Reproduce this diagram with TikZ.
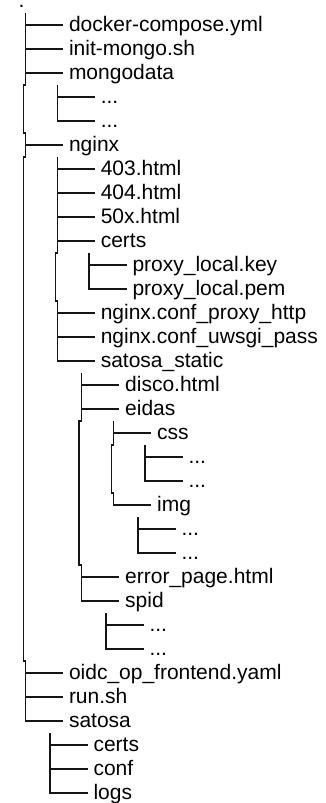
\documentclass[tikz,border=0pt]{standalone}
\usepackage{fontspec}
\setmainfont{Liberation Sans}
\begin{document}
\begin{tikzpicture}[x=1pt,y=-1pt,
  ent/.style={anchor=west, inner xsep=6pt, inner ysep=0pt, outer sep=0pt,
    text height=13pt, text depth=0pt, font=\fontsize{21}{24}\selectfont},
  tl/.style={line width=1.2pt, draw=black!92}]
\useasboundingbox (0,0) rectangle (325,803);

% root
\node[anchor=base west, inner sep=0pt, outer sep=0pt, text height=3pt, text depth=0pt,
  font=\fontsize{21}{24}\selectfont] (root) at (18.7,8) {.};
% level 1 (vertical x = 25.7, west x = 63)
\node[ent] (dc)    at (63,25)  {docker-compose.yml};
\node[ent] (im)    at (63,49)  {init-mongo.sh};
\node[ent] (md)    at (63,73)  {mongodata};
\node[ent] (ng)    at (63,145) {nginx};
\node[ent] (oidc)  at (63,673) {oidc\_op\_frontend.yaml};
\node[ent] (run)   at (63,697) {run.sh};
\node[ent] (sat)   at (63,721) {satosa};
% mongodata children (vertical x = 57.3)
\node[ent] (md1) at (94.8,97)  {...};
\node[ent] (md2) at (94.8,121) {...};
% nginx children (vertical x = 57.3)
\node[ent] (h403) at (94.8,169) {403.html};
\node[ent] (h404) at (94.8,193) {404.html};
\node[ent] (h50x) at (94.8,217) {50x.html};
\node[ent] (ncrt) at (94.8,241) {certs};
\node[ent] (nph)  at (94.8,313) {nginx.conf\_proxy\_http};
\node[ent] (nup)  at (94.8,337) {nginx.conf\_uwsgi\_pass};
\node[ent] (ss)   at (94.8,361) {satosa\_static};
% certs children (vertical x = 89)
\node[ent] (pk) at (126.5,265) {proxy\_local.key};
\node[ent] (pp) at (126.5,289) {proxy\_local.pem};
% satosa_static children (vertical x = 81.7)
\node[ent] (disco) at (119.2,385) {disco.html};
\node[ent] (eid)   at (119.2,409) {eidas};
\node[ent] (err)   at (119.2,577) {error\_page.html};
\node[ent] (spid)  at (119.2,601) {spid};
% eidas children (vertical x = 113.7)
\node[ent] (css) at (151.2,433) {css};
\node[ent] (img) at (151.2,505) {img};
% css children (vertical x = 145)
\node[ent] (css1) at (182.5,457) {...};
\node[ent] (css2) at (182.5,481) {...};
% img children (vertical x = 138)
\node[ent] (img1) at (175.5,529) {...};
\node[ent] (img2) at (175.5,553) {...};
% spid children (vertical x = 106)
\node[ent] (sp1) at (143.5,625) {...};
\node[ent] (sp2) at (143.5,649) {...};
% satosa children (vertical x = 50)
\node[ent] (scrt) at (87.5,745) {certs};
\node[ent] (sconf) at (87.5,769) {conf};
\node[ent] (slogs) at (87.5,793) {logs};

% vertical tops
\coordinate (root-v) at (25.7,13);
\coordinate (md-v)   at (57.3,85);
\coordinate (ng-v)   at (57.3,157);
\coordinate (ncrt-v) at (89,253);
\coordinate (ss-v)   at (81.7,373);
\coordinate (eid-v)  at (113.7,421);
\coordinate (css-v)  at (145,445);
\coordinate (img-v)  at (138,517);
\coordinate (spid-v) at (106,613);
\coordinate (sat-v)  at (50,733);

% root tree
\draw[tl] (root-v) -- ++(0,72) -- ++(-2,0) -- ++(0,48) -- ++(2,0) -- ++(0,24)
  -- ++(-2,0) -- ++(0,504) -- ++(2,0) |- (sat.west);
\foreach \c in {dc,im,md,ng,oidc,run} \draw[tl] (root-v |- \c.west) -- (\c.west);
% mongodata
\draw[tl] (md-v) |- (md2.west);
\draw[tl] (md-v |- md1.west) -- (md1.west);
% nginx
\draw[tl] (ng-v) -- ++(0,96) -- ++(-2,0) -- ++(0,48) -- ++(2,0) |- (ss.west);
\foreach \c in {h403,h404,h50x,ncrt,nph,nup} \draw[tl] (ng-v |- \c.west) -- (\c.west);
% certs
\draw[tl] (ncrt-v) |- (pp.west);
\draw[tl] (ncrt-v |- pk.west) -- (pk.west);
% satosa_static
\draw[tl] (ss-v) -- ++(0,48) -- ++(-2.7,0) -- ++(0,144) -- ++(2.7,0) |- (spid.west);
\foreach \c in {disco,eid,err} \draw[tl] (ss-v |- \c.west) -- (\c.west);
% eidas
\draw[tl] (eid-v) -- ++(0,24) -- ++(-2,0) -- ++(0,48) -- ++(2,0) |- (img.west);
\draw[tl] (eid-v |- css.west) -- (css.west);
% css
\draw[tl] (css-v) |- (css2.west);
\draw[tl] (css-v |- css1.west) -- (css1.west);
% img
\draw[tl] (img-v) |- (img2.west);
\draw[tl] (img-v |- img1.west) -- (img1.west);
% spid
\draw[tl] (spid-v) |- (sp2.west);
\draw[tl] (spid-v |- sp1.west) -- (sp1.west);
% satosa
\draw[tl] (sat-v) |- (slogs.west);
\foreach \c in {scrt,sconf} \draw[tl] (sat-v |- \c.west) -- (\c.west);
\end{tikzpicture}
\end{document}
